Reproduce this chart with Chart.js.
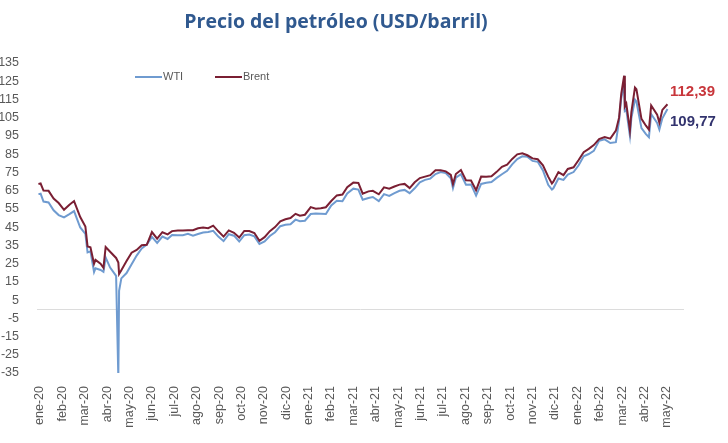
<!DOCTYPE html>
<html>
<head>
<meta charset="utf-8">
<script src="https://cdn.jsdelivr.net/npm/chart.js@4.4.0/dist/chart.umd.min.js"></script>
<style>
  html, body { margin: 0; padding: 0; background: #fff; }
  #wrap { position: relative; width: 728px; height: 443px; }
  #title { position: absolute; top: 7px; left: 0; width: 672px; text-align: center;
           font: bold 19.5px "Open Sans", sans-serif; color: #30598f; }
  canvas { position: absolute; left: 0; top: 0; }
</style>
</head>
<body>
<div id="wrap">
  <canvas id="chartCanvas" width="728" height="443"></canvas>
  <div id="title">Precio del petróleo (USD/barril)</div>
</div>
<script>
// month tick labels on the x axis
const monthLabels = [
  'ene-20', 'feb-20', 'mar-20', 'abr-20', 'may-20', 'jun-20', 'jul-20', 'ago-20', 'sep-20', 'oct-20', 'nov-20', 'dic-20',
  'ene-21', 'feb-21', 'mar-21', 'abr-21', 'may-21', 'jun-21', 'jul-21', 'ago-21', 'sep-21', 'oct-21', 'nov-21', 'dic-21',
  'ene-22', 'feb-22', 'mar-22', 'abr-22', 'may-22'
];

const yTicks = [-35, -25, -15, -5, 5, 15, 25, 35, 45, 55, 65, 75, 85, 95, 105, 115, 125, 135];

const dates = [
  '2020-01-03', '2020-01-06', '2020-01-10', '2020-01-17', '2020-01-24', '2020-01-31', '2020-02-07', '2020-02-14',
  '2020-02-20', '2020-02-28', '2020-03-06', '2020-03-09', '2020-03-13', '2020-03-18', '2020-03-20', '2020-03-27',
  '2020-03-31', '2020-04-03', '2020-04-09', '2020-04-17', '2020-04-20', '2020-04-21', '2020-04-24', '2020-05-01',
  '2020-05-08', '2020-05-15', '2020-05-22', '2020-05-29', '2020-06-05', '2020-06-12', '2020-06-19', '2020-06-26',
  '2020-07-02', '2020-07-10', '2020-07-17', '2020-07-24', '2020-07-31', '2020-08-07', '2020-08-14', '2020-08-21',
  '2020-08-28', '2020-09-04', '2020-09-11', '2020-09-18', '2020-09-25', '2020-10-02', '2020-10-09', '2020-10-16',
  '2020-10-23', '2020-10-30', '2020-11-06', '2020-11-13', '2020-11-20', '2020-11-27', '2020-12-04', '2020-12-11',
  '2020-12-18', '2020-12-24', '2020-12-31',
  '2021-01-08', '2021-01-15', '2021-01-22', '2021-01-29', '2021-02-05', '2021-02-12', '2021-02-19', '2021-02-25',
  '2021-03-05', '2021-03-12', '2021-03-18', '2021-03-26', '2021-04-01', '2021-04-09', '2021-04-16', '2021-04-23',
  '2021-04-30', '2021-05-07', '2021-05-14', '2021-05-21', '2021-05-28', '2021-06-04', '2021-06-11', '2021-06-18',
  '2021-06-25', '2021-07-02', '2021-07-09', '2021-07-16', '2021-07-19', '2021-07-23', '2021-07-30', '2021-08-06',
  '2021-08-13', '2021-08-20', '2021-08-27', '2021-09-03', '2021-09-10', '2021-09-17', '2021-09-24', '2021-10-01',
  '2021-10-08', '2021-10-15', '2021-10-22', '2021-10-29', '2021-11-05', '2021-11-12', '2021-11-19', '2021-11-26',
  '2021-12-01', '2021-12-03', '2021-12-10', '2021-12-17', '2021-12-23', '2021-12-31',
  '2022-01-07', '2022-01-14', '2022-01-21', '2022-01-28', '2022-02-04', '2022-02-11', '2022-02-18', '2022-02-25',
  '2022-03-01', '2022-03-04', '2022-03-08', '2022-03-09', '2022-03-11', '2022-03-16', '2022-03-18', '2022-03-23',
  '2022-03-25', '2022-04-01', '2022-04-07', '2022-04-11', '2022-04-14', '2022-04-22', '2022-04-25', '2022-04-29',
  '2022-05-06'
];

const wti = [
  63.1, 63.3, 59.0, 58.5, 54.2, 51.6, 50.3, 52.1,
  53.8, 44.8, 41.3, 31.1, 31.7, 20.4, 22.4, 21.5,
  20.5, 28.3, 22.8, 18.3, -37.6, 10.0, 16.9, 19.8,
  24.7, 29.4, 33.3, 35.5, 39.6, 36.3, 39.8, 38.5,
  40.7, 40.6, 40.6, 41.3, 40.3, 41.2, 42.0, 42.3,
  43.0, 39.8, 37.3, 41.1, 40.3, 37.1, 40.6, 40.9,
  39.9, 35.8, 37.1, 40.1, 42.2, 45.5, 46.3, 46.6,
  49.1, 48.2, 48.5,
  52.2, 52.4, 52.3, 52.2, 56.9, 59.5, 59.2, 63.5,
  66.1, 65.6, 60.0, 61.0, 61.5, 59.3, 63.1, 62.1,
  63.6, 64.9, 65.4, 63.6, 66.3, 69.6, 70.9, 71.6,
  74.1, 75.2, 74.6, 71.8, 66.4, 72.1, 74.0, 68.3,
  68.4, 62.3, 68.7, 69.3, 69.7, 72.0, 74.0, 75.9,
  79.4, 82.3, 83.8, 83.6, 81.3, 80.8, 76.1, 68.2,
  65.6, 66.3, 71.7, 70.9, 73.8, 75.2,
  78.9, 83.8, 85.1, 86.8, 92.3, 93.1, 91.1, 91.6,
  103.4, 115.7, 123.7, 108.7, 109.3, 95.0, 104.7, 114.9,
  113.9, 99.3, 96.0, 94.3, 107.0, 102.1, 98.5, 104.7,
  109.77
];

const brent = [
  68.6, 68.9, 65.0, 64.9, 60.7, 58.2, 54.5, 57.3,
  59.3, 50.5, 45.3, 34.4, 33.9, 24.9, 27.0, 24.9,
  22.7, 34.1, 31.5, 28.1, 25.6, 19.3, 21.4, 26.4,
  31.0, 32.5, 35.1, 35.3, 42.3, 38.7, 42.2, 41.0,
  42.8, 43.2, 43.1, 43.3, 43.3, 44.4, 44.8, 44.4,
  45.8, 42.7, 39.8, 43.2, 41.9, 39.3, 42.9, 42.9,
  41.8, 37.5, 39.5, 42.8, 45.0, 48.2, 49.3, 50.0,
  52.3, 51.3, 51.8,
  56.0, 55.1, 55.4, 55.9, 59.3, 62.4, 62.9, 66.9,
  69.4, 69.2, 63.3, 64.6, 64.9, 63.0, 66.8, 66.1,
  67.3, 68.3, 68.7, 66.4, 69.6, 71.9, 72.7, 73.5,
  76.2, 76.2, 75.6, 73.6, 68.6, 74.1, 76.3, 70.7,
  70.6, 65.2, 72.7, 72.6, 72.9, 75.3, 78.1, 79.3,
  82.4, 84.9, 85.5, 84.4, 82.7, 82.2, 78.9, 72.7,
  68.9, 69.9, 75.2, 73.5, 76.9, 77.8,
  81.8, 86.1, 87.9, 90.0, 93.3, 94.4, 93.5, 97.9,
  105.0, 118.1, 128.0, 111.1, 112.7, 98.0, 107.9, 121.6,
  120.7, 104.4, 100.6, 98.5, 111.7, 106.7, 102.3, 109.3,
  112.39
];

// date -> position in months from ene-20
function toMonths(s) {
  const [y, m, d] = s.split('-').map(Number);
  const dim = new Date(y, m, 0).getDate();
  return (y - 2020) * 12 + (m - 1) + (d - 1) / dim;
}

const labelFont = { family: 'Liberation Sans, Arial, sans-serif', size: 12.5 };
const WTI_COLOR = '#6f9bd0';
const BRENT_COLOR = '#7a1f33';

const overlay = {
  id: 'overlay',
  beforeDatasetsDraw(chart) {
    // zero line
    const { ctx, chartArea } = chart;
    const y0 = Math.round(chart.scales.y.getPixelForValue(0)) + 0.5;
    ctx.save();
    ctx.strokeStyle = '#dcdcdc';
    ctx.lineWidth = 1;
    ctx.beginPath();
    ctx.moveTo(chartArea.left, y0);
    ctx.lineTo(chartArea.right, y0);
    ctx.stroke();
    ctx.restore();
  },
  afterDatasetsDraw(chart) {
    const ctx = chart.ctx;
    const ds = chart.data.datasets;
    ctx.save();
    // legend inside the plot
    const items = [{ x: 135, i: 0 }, { x: 215, i: 1 }];
    ctx.font = '11px Liberation Sans, Arial, sans-serif';
    ctx.textBaseline = 'middle';
    items.forEach(it => {
      ctx.strokeStyle = ds[it.i].borderColor;
      ctx.lineWidth = 2;
      ctx.beginPath();
      ctx.moveTo(it.x, 77);
      ctx.lineTo(it.x + 27, 77);
      ctx.stroke();
      ctx.fillStyle = '#595959';
      ctx.fillText(ds[it.i].label, it.x + 28, 77);
    });
    // last values
    const fmt = v => v.toFixed(2).replace('.', ',');
    ctx.font = 'bold 15px Liberation Sans, Arial, sans-serif';
    ctx.fillStyle = '#c8363b';
    ctx.fillText(fmt(brent[brent.length - 1]), 670, 92);
    ctx.fillStyle = '#32336e';
    ctx.fillText(fmt(wti[wti.length - 1]), 670, 122);
    ctx.restore();
  }
};

const ctx = document.getElementById('chartCanvas').getContext('2d');
new Chart(ctx, {
  type: 'line',
  data: {
    datasets: [
      {
        label: 'WTI',
        data: dates.map((d, i) => ({ x: toMonths(d), y: wti[i] })),
        borderColor: WTI_COLOR,
        borderWidth: 2,
        pointRadius: 0,
        tension: 0,
        order: 1,
      },
      {
        label: 'Brent',
        data: dates.map((d, i) => ({ x: toMonths(d), y: brent[i] })),
        borderColor: BRENT_COLOR,
        borderWidth: 2,
        pointRadius: 0,
        tension: 0,
        order: 0,
      },
    ],
  },
  options: {
    responsive: false,
    animation: false,
    devicePixelRatio: 1,
    layout: { padding: { top: 63, right: 44, left: 0, bottom: 0 } },
    plugins: {
      legend: { display: false },
      tooltip: { enabled: false },
    },
    scales: {
      x: {
        type: 'linear',
        min: 0,
        max: 28.9,
        afterBuildTicks: s => { s.ticks = monthLabels.map((l, i) => ({ value: i })); },
        afterFit: s => { s.height = 70; },
        grid: { display: false },
        border: { display: false },
        ticks: {
          autoSkip: false,
          minRotation: 90,
          maxRotation: 90,
          labelOffset: 3,
          padding: 5,
          font: labelFont,
          color: '#595959',
          callback: v => monthLabels[v],
        },
      },
      y: {
        type: 'linear',
        min: -35,
        max: 135,
        afterBuildTicks: s => { s.ticks = yTicks.map(v => ({ value: v })); },
        afterFit: s => { s.width = 37; },
        grid: { display: false },
        border: { display: false },
        ticks: {
          padding: 10,
          font: labelFont,
          color: '#595959',
        },
      },
    },
  },
  plugins: [overlay],
});
</script>
</body>
</html>
